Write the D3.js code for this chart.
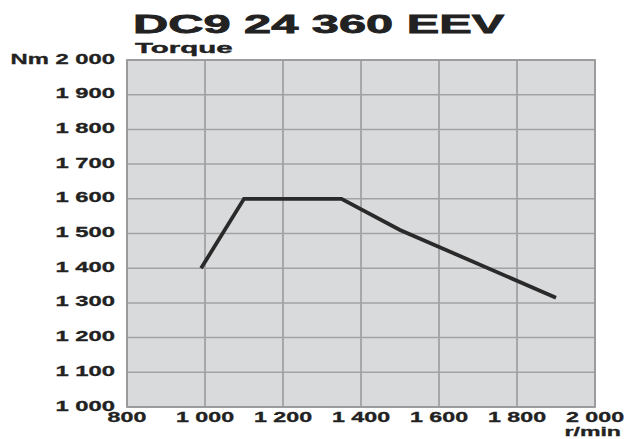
<!DOCTYPE html>
<html>
<head>
<meta charset="utf-8">
<script src="https://cdn.jsdelivr.net/npm/d3@7"></script>
<style>
  body { margin: 0; background: #fff; }
  text { font-family: "Liberation Sans", Arial, sans-serif; font-weight: bold; fill: #222; }
</style>
</head>
<body>
<script>
// torque curve, DC9 24 360 EEV
const rpm = [990, 1100, 1350, 1500, 1900];
const torque = [1400, 1600, 1600, 1510, 1315];
const xTicks = [800, 1000, 1200, 1400, 1600, 1800, 2000];
const yTicks = [1000, 1100, 1200, 1300, 1400, 1500, 1600, 1700, 1800, 1900, 2000];

const width = 626, height = 439;
const plot = {left: 127, right: 595, top: 60, bottom: 407};

const fmt = d3.formatLocale({decimal: ",", thousands: " ", grouping: [3], currency: ["", ""]}).format(",d");

const svg = d3.select("body").append("svg")
  .attr("width", width)
  .attr("height", height);

const x = d3.scaleLinear().domain([800, 2000]).range([plot.left, plot.right]);
const y = d3.scaleLinear().domain([1000, 2000]).range([plot.bottom, plot.top]);

// stretched text helper (the original lettering is wide)
function label(px, py, str, size, sx, anchor, heavy) {
  const g = svg.append("g").attr("transform", "translate(" + px + "," + py + ")");
  g.append("text")
    .attr("transform", "scale(" + sx + ",1)")
    .attr("text-anchor", anchor)
    .style("font-size", size + "px")
    .style("stroke", "#222")
    .style("stroke-width", heavy || 0)
    .text(str);
}

// background
svg.append("rect")
  .attr("x", plot.left).attr("y", plot.top)
  .attr("width", plot.right - plot.left)
  .attr("height", plot.bottom - plot.top)
  .attr("fill", "#d9dadc");

// grid
svg.append("g").selectAll("line").data(yTicks).enter().append("line")
  .attr("x1", plot.left).attr("x2", plot.right)
  .attr("y1", d => y(d)).attr("y2", d => y(d))
  .attr("stroke", "#a2a2a4").attr("stroke-width", 1.5);

svg.append("g").selectAll("line").data(xTicks).enter().append("line")
  .attr("x1", d => x(d)).attr("x2", d => x(d))
  .attr("y1", plot.top).attr("y2", plot.bottom)
  .attr("stroke", "#a2a2a4").attr("stroke-width", 1.8);

// frame
svg.append("rect")
  .attr("x", plot.left).attr("y", plot.top)
  .attr("width", plot.right - plot.left)
  .attr("height", plot.bottom - plot.top)
  .attr("fill", "none")
  .attr("stroke", "#9a9a9c").attr("stroke-width", 1.8);

// torque line
const line = d3.line().x(d => x(d[0])).y(d => y(d[1]));
svg.append("path")
  .datum(rpm.map((r, i) => [r, torque[i]]))
  .attr("d", line)
  .attr("fill", "none")
  .attr("stroke", "#2a2a2a")
  .attr("stroke-width", 3.8)
  .attr("stroke-linejoin", "miter");

// y labels
yTicks.forEach(function(d) {
  const str = d === 2000 ? "Nm " + fmt(d) : fmt(d);
  label(115, y(d) + 3.5, str, 14, 1.7, "end", 0.3);
});

// x labels
xTicks.forEach(function(d) {
  label(x(d), 421.5, fmt(d), 14, 1.66, "middle", 0.3);
});
label(621, 436.3, "r/min", 13, 1.78, "end", 0.3);

// titles
label(133, 33, "DC9 24 360 EEV", 26.5, 1.84, "start", 0.8);
label(135, 53, "Torque", 15.5, 1.9, "start", 0.4);
</script>
</body>
</html>
